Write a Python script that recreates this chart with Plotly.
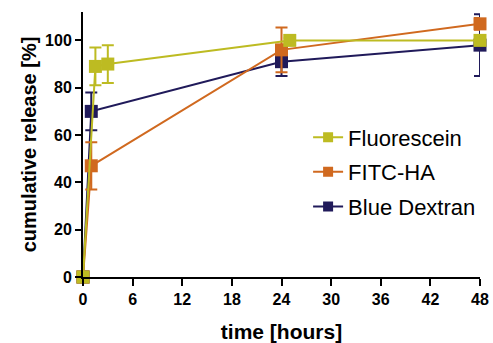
import plotly.graph_objects as go

# Data
flu_t = [0, 1.5, 3, 25, 48]
flu_y = [0, 89, 90, 100, 100]
flu_e = [0, 8, 8, 1, 1]

fitc_t = [0, 1, 24, 48]
fitc_y = [0, 47, 96, 107]
fitc_e = [0, 10, 9.5, 2.5]

blue_t = [0, 1, 24, 48]
blue_y = [0, 70, 91, 98]
blue_e = [0, 8, 6, 13]

x_ticks = [0, 6, 12, 18, 24, 30, 36, 42, 48]
y_ticks = [0, 20, 40, 60, 80, 100]

C_FLU = "#BDBB22"
C_FITC = "#D0691F"
C_BLUE = "#201A5A"

FONT = "Liberation Sans, Arial, sans-serif"

fig = go.Figure()

def add_series(t, y, e, color, name):
    fig.add_trace(go.Scatter(
        x=t, y=y, mode="lines+markers", name=name, showlegend=False,
        line=dict(color=color, width=2),
        marker=dict(symbol="square", size=13, color=color),
        error_y=dict(type="data", array=e, visible=True, color=color,
                     thickness=2, width=6),
        cliponaxis=False,
    ))

# draw order: blue bottom, fluorescein top
add_series(blue_t, blue_y, blue_e, C_BLUE, "Blue Dextran")
add_series(fitc_t, fitc_y, fitc_e, C_FITC, "FITC-HA")
add_series(flu_t, flu_y, flu_e, C_FLU, "Fluorescein")

# legend entries
for name, color, grp in [("Fluorescein", C_FLU, "a"), ("FITC-HA", C_FITC, "b"), ("Blue Dextran", C_BLUE, "c")]:
    fig.add_trace(go.Scatter(
        x=[None], y=[None], mode="lines+markers", name=name, legendgroup=grp,
        line=dict(color=color, width=2),
        marker=dict(symbol="square", size=10, color=color),
    ))

fig.update_layout(
    width=493, height=343, autosize=False,
    margin=dict(l=83, r=13, t=12, b=66),
    paper_bgcolor="white", plot_bgcolor="white",
    font=dict(family=FONT, color="black"),
    showlegend=True,
    legend=dict(x=0.567, y=0.606, xanchor="left", yanchor="top",
                font=dict(size=22, family=FONT, color="black"),
                bgcolor="rgba(0,0,0,0)", tracegroupgap=3, traceorder="grouped"),
    xaxis=dict(range=[0, 48], tickvals=x_ticks, ticks="outside", ticklen=7,
               tickwidth=2, tickcolor="black", showline=True, linecolor="black",
               linewidth=2, showgrid=False, zeroline=False, automargin=False,
               tickfont=dict(size=16, weight="bold", family=FONT),
               title=dict(text="time [hours]", font=dict(size=21, weight="bold", family=FONT),
                          standoff=19)),
    yaxis=dict(range=[0, 112], tickvals=y_ticks, ticks="outside", ticklen=6,
               tickwidth=2, tickcolor="black", showline=True, linecolor="black",
               linewidth=2, showgrid=False, zeroline=False, automargin=False,
               tickfont=dict(size=16, weight="bold", family=FONT),
               title=dict(text="cumulative release [%]", font=dict(size=20, weight="bold", family=FONT),
                          standoff=3)),
)

fig.write_html("out.html", config={"displayModeBar": False},
               post_script="document.body.style.margin='0';document.body.style.overflow='hidden';")
